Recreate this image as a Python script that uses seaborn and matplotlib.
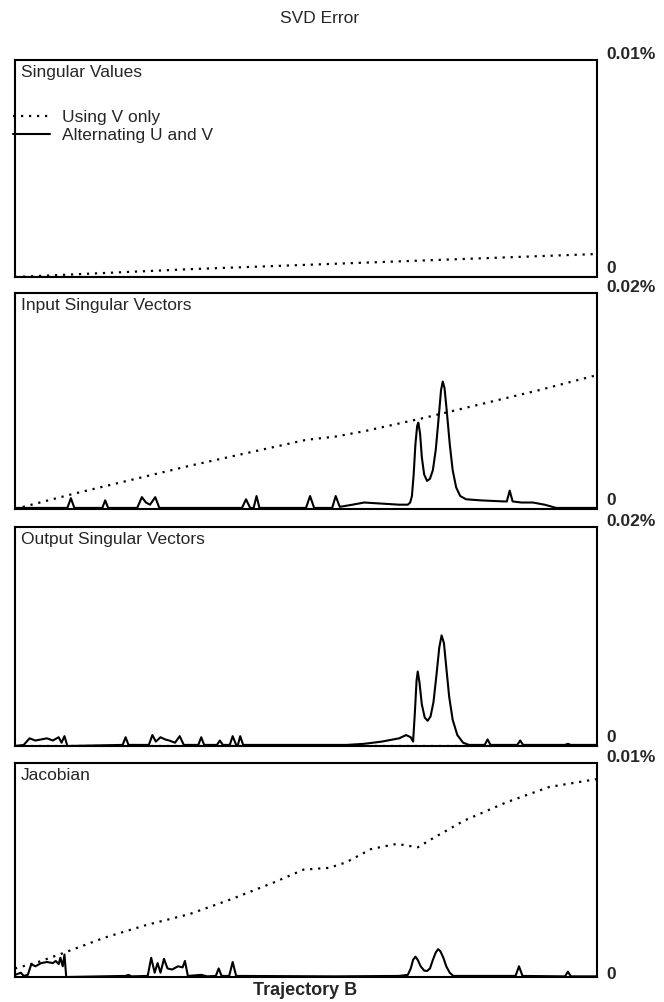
import matplotlib
matplotlib.use("Agg")
import matplotlib.pyplot as plt
import pandas as pd
import seaborn as sns


# x = position along trajectory B (0..1), y = error in %
PANEL_TITLES = ["Singular Values", "Input Singular Vectors", "Output Singular Vectors", "Jacobian"]
PANEL_MAX = [0.01, 0.02, 0.02, 0.01]
TOP_LABELS = ["0.01%", "0.02%", "0.02%", "0.01%"]

# Singular values
sv_v_x = [0, 0.1, 0.2, 0.3, 0.4, 0.5, 0.6, 0.7, 0.8, 0.9, 1.0]
sv_v_y = [0.0, 0.00012, 0.00024, 0.00036, 0.00046, 0.00056, 0.00066, 0.00076, 0.00086, 0.00096, 0.00106]
sv_uv_x = [0, 0.5, 1.0]
sv_uv_y = [0.0, 0.0, 0.0]

# Input singular vectors
in_v_x = [0, 0.1, 0.2, 0.3, 0.4, 0.5, 0.55, 0.6, 0.7, 0.8, 0.9, 1.0]
in_v_y = [0.0, 0.0014, 0.0027, 0.0040, 0.0052, 0.0064, 0.0067, 0.0072, 0.0084, 0.0097, 0.0110, 0.0124]
in_uv_x = [0, 0.09, 0.096, 0.102, 0.15, 0.155, 0.16, 0.21, 0.218, 0.225, 0.232, 0.241, 0.248,
           0.39, 0.397, 0.404, 0.41, 0.415, 0.42, 0.50, 0.507, 0.514, 0.545, 0.551, 0.558,
           0.58, 0.60, 0.63, 0.66, 0.675, 0.679, 0.682, 0.685, 0.688, 0.691, 0.693, 0.696, 0.699,
           0.703, 0.708, 0.713, 0.718, 0.723, 0.728, 0.732, 0.735, 0.738, 0.742, 0.747, 0.752,
           0.758, 0.765, 0.775, 0.80, 0.84, 0.845, 0.85, 0.855, 0.87, 0.89, 0.91, 0.93, 0.95, 1.0]
in_uv_y = [0.0001, 0.0001, 0.0010, 0.0001, 0.0001, 0.0008, 0.0001, 0.0001, 0.0011, 0.0006, 0.0004, 0.0011, 0.0001,
           0.0001, 0.0009, 0.0001, 0.0001, 0.0012, 0.0001, 0.0001, 0.0012, 0.0001, 0.0001, 0.0012, 0.0002,
           0.0004, 0.0006, 0.0005, 0.0004, 0.0004, 0.0006, 0.0012, 0.0032, 0.0060, 0.0077, 0.0080, 0.0070, 0.0048,
           0.0032, 0.0026, 0.0028, 0.0036, 0.0055, 0.0085, 0.0110, 0.0118, 0.0112, 0.0090, 0.0060, 0.0036,
           0.0020, 0.0012, 0.0009, 0.0008, 0.0007, 0.0007, 0.0017, 0.0007, 0.0006, 0.0006, 0.0004, 0.0001, 0.0001, 0.0001]

# Output singular vectors
out_v_x = [0, 1.0]
out_v_y = [0.0, 0.0]
out_uv_x = [0, 0.015, 0.02, 0.025, 0.035, 0.045, 0.055, 0.065, 0.075, 0.08, 0.085, 0.09,
            0.185, 0.19, 0.195, 0.23, 0.236, 0.242, 0.25, 0.258, 0.265, 0.275, 0.283, 0.29, 0.296,
            0.315, 0.32, 0.325, 0.347, 0.352, 0.357, 0.369, 0.374, 0.38, 0.383, 0.387, 0.392,
            0.57, 0.6, 0.63, 0.66, 0.672, 0.680, 0.684, 0.687, 0.690, 0.692, 0.695, 0.699, 0.704,
            0.709, 0.714, 0.719, 0.724, 0.729, 0.733, 0.737, 0.741, 0.746, 0.752, 0.76, 0.77, 0.78,
            0.807, 0.812, 0.817, 0.863, 0.868, 0.873, 0.945, 0.95, 0.955, 1.0]
out_uv_y = [0.0, 0.0001, 0.0004, 0.0007, 0.0005, 0.0006, 0.0007, 0.0005, 0.0008, 0.0003, 0.0009, 0.0,
            0.0001, 0.0008, 0.0001, 0.0001, 0.0010, 0.0004, 0.0008, 0.0006, 0.0005, 0.0003, 0.0009, 0.0001, 0.0001,
            0.0001, 0.0008, 0.0001, 0.0001, 0.0005, 0.0001, 0.0001, 0.0009, 0.0001, 0.0001, 0.0009, 0.0001,
            0.0001, 0.0002, 0.0004, 0.0007, 0.0010, 0.0008, 0.0004, 0.0030, 0.0060, 0.0068, 0.0058, 0.0038, 0.0026,
            0.0023, 0.0027, 0.0040, 0.0064, 0.0090, 0.0101, 0.0094, 0.0072, 0.0045, 0.0024, 0.0010, 0.0003, 0.0001,
            0.0001, 0.0006, 0.0001, 0.0001, 0.0005, 0.0001, 0.0001, 0.0002, 0.0001, 0.0001]

# Jacobian
jac_v_x = [0, 0.04, 0.081, 0.154, 0.227, 0.3, 0.372, 0.445, 0.496, 0.54, 0.569, 0.612,
           0.656, 0.692, 0.721, 0.772, 0.845, 0.918, 1.0]
jac_v_y = [0.0004, 0.0007, 0.0011, 0.00184, 0.00244, 0.00294, 0.00364, 0.00442, 0.00502, 0.0051,
           0.00536, 0.00598, 0.00622, 0.00606, 0.00653, 0.00731, 0.00817, 0.00888, 0.00925]
jac_uv_x = [0, 0.01, 0.015, 0.022, 0.028, 0.035, 0.045, 0.055, 0.065, 0.07, 0.075, 0.078, 0.082,
            0.085, 0.088, 0.19, 0.195, 0.2, 0.228, 0.234, 0.24, 0.245, 0.25, 0.256, 0.262, 0.27,
            0.28, 0.288, 0.292, 0.297, 0.32, 0.33, 0.345, 0.35, 0.355, 0.368, 0.374, 0.38, 0.55,
            0.66, 0.675, 0.680, 0.684, 0.688, 0.692, 0.697, 0.703, 0.708, 0.713, 0.718, 0.723,
            0.727, 0.731, 0.736, 0.741, 0.747, 0.753,
            0.86, 0.866, 0.872, 0.945, 0.95, 0.955, 1.0]
jac_uv_y = [0.0001, 0.0002, 0.00005, 0.0001, 0.0006, 0.0005, 0.00065, 0.0007, 0.00065, 0.00075, 0.0006, 0.0009, 0.0005,
            0.00105, 0.0, 0.00005, 0.0001, 0.00003, 0.00005, 0.0009, 0.0002, 0.00065, 0.0002, 0.00085, 0.0004, 0.00035,
            0.0005, 0.00045, 0.00075, 0.00005, 0.0001, 0.00003, 0.00005, 0.0004, 0.00005, 0.00005, 0.0007, 0.00005, 0.00003,
            0.00005, 0.0001, 0.0004, 0.0008, 0.00095, 0.0008, 0.0005, 0.0003, 0.00028, 0.0004, 0.0008, 0.00115,
            0.0013, 0.0012, 0.0009, 0.0005, 0.0002, 0.00005,
            0.00005, 0.0005, 0.00005, 0.00003, 0.00025, 0.00003, 0.00003]

SERIES = [
    (sv_v_x, sv_v_y, sv_uv_x, sv_uv_y),
    (in_v_x, in_v_y, in_uv_x, in_uv_y),
    (out_v_x, out_v_y, out_uv_x, out_uv_y),
    (jac_v_x, jac_v_y, jac_uv_x, jac_uv_y),
]

# panel boxes in pixels (top, bottom) on a 664x1002 canvas
PANEL_PX = [(60, 277), (293, 509), (527, 746), (763, 977)]
LEFT_PX, RIGHT_PX = 15, 597
W, H = 664, 1002

DOTTED = (0, (1, 2.6))
FS = 12.5


def main() -> None:
    sns.set_theme(style="white")
    plt.rcParams["font.family"] = ["Liberation Sans", "DejaVu Sans"]

    fig = plt.figure(figsize=(W / 100, H / 100), dpi=100)

    for i, (title, ymax, top_label, (vx, vy, ux, uy)) in enumerate(
        zip(PANEL_TITLES, PANEL_MAX, TOP_LABELS, SERIES)
    ):
        top, bottom = PANEL_PX[i]
        ax = fig.add_axes([LEFT_PX / W, 1 - bottom / H, (RIGHT_PX - LEFT_PX) / W, (bottom - top) / H])

        dotted_df = pd.DataFrame({"x": vx, "y": vy})
        solid_df = pd.DataFrame({"x": ux, "y": uy})
        sns.lineplot(data=dotted_df, x="x", y="y", color="black", linewidth=1.6,
                     linestyle=DOTTED, label="Using V only", ax=ax)
        sns.lineplot(data=solid_df, x="x", y="y", color="black", linewidth=1.5,
                     label="Alternating U and V", ax=ax)

        ax.set_xlim(0, 1)
        ax.set_ylim(0, ymax)
        ax.set_xticks([])
        ax.set_yticks([])
        ax.set_xlabel("")
        ax.set_ylabel("")
        for spine in ax.spines.values():
            spine.set_color("black")
            spine.set_linewidth(1.5)

        ax.text(0.01, 0.975, title, transform=ax.transAxes, ha="left", va="top", fontsize=FS)

        ax.annotate(top_label, xy=(1, 1), xycoords="axes fraction", xytext=(7, 4),
                    textcoords="offset points", ha="left", va="center", fontsize=FS,
                    fontweight="bold")
        ax.annotate("0", xy=(1, 0), xycoords="axes fraction", xytext=(7, 6 if i < 3 else 2),
                    textcoords="offset points", ha="left", va="center", fontsize=FS,
                    fontweight="bold")

        if i == 0:
            ax.legend(loc="upper left", bbox_to_anchor=(-0.003, 0.768), frameon=False,
                      handlelength=2.1, handletextpad=0.7, labelspacing=0.15, fontsize=FS,
                      borderaxespad=0, borderpad=0)
        else:
            ax.get_legend().remove()

    fig.text(0.482, 0.982, "SVD Error", ha="center", va="center", fontsize=FS)
    fig.text(0.46, 0.011, "Trajectory B", ha="center", va="center", fontsize=13,
             fontweight="bold")

    fig.savefig("out.png", dpi=100)
    plt.close(fig)


if __name__ == "__main__":
    main()
